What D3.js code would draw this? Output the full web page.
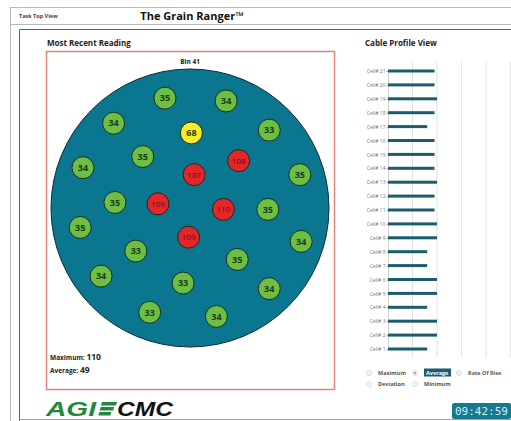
<!DOCTYPE html>
<html>
<head>
<meta charset="utf-8">
<script src="https://cdn.jsdelivr.net/npm/d3@7"></script>
<style>
  body { margin: 0; background: #fff; }
  text { font-family: "Open Sans", "DejaVu Sans", sans-serif; }
</style>
</head>
<body>
<div id="view"></div>
<script>

// sensor readings in the bin, positions in bin units (-1..1 from the center)
var sensorX = [-0.18, 0.26, -0.55, 0.01, 0.57, -0.34, 0.35, -0.77, 0.03, 0.79, -0.54, -0.23,
               0.24, 0.56, -0.79, -0.01, 0.80, -0.39, 0.34, -0.64, -0.05, 0.57, -0.29, 0.19];
var sensorY = [-0.79, -0.77, -0.61, -0.54, -0.56, -0.37, -0.34, -0.29, -0.24, -0.24, -0.04, -0.03,
               0.01, 0.01, 0.14, 0.21, 0.24, 0.31, 0.37, 0.49, 0.54, 0.58, 0.75, 0.78];
var sensorTemp = [35, 34, 34, 68, 33, 35, 108, 34, 107, 35, 35, 109,
                  110, 35, 35, 109, 34, 33, 35, 34, 33, 34, 33, 34];

// cable profile (average per cell)
var cells = ["Cell# 21", "Cell# 20", "Cell# 19", "Cell# 18", "Cell# 17", "Cell# 16", "Cell# 15",
             "Cell# 14", "Cell# 13", "Cell# 12", "Cell# 11", "Cell# 10", "Cell# 9", "Cell# 8",
             "Cell# 7", "Cell# 6", "Cell# 5", "Cell# 4", "Cell# 3", "Cell# 2", "Cell# 1"];
var cellAvg = [38, 38, 40, 38, 32, 38, 38, 38, 40, 38, 38, 40, 40, 32, 32, 40, 40, 32, 40, 40, 32];
var profileTicks = [0, 20, 40, 60, 80, 100];

var options1 = ["Maximum", "Average", "Rate Of Rise"];
var options2 = ["Deviation", "Minimum"];
var selectedOption = "Average";

var binName = "Bin 41";
var maxReading = 110;
var avgReading = 49;
var clockText = "09:42:59";

var width = 511, height = 421;

var svg = d3.select("#view")
  .append("svg")
    .attr("width", width)
    .attr("height", height);

// window frame + header
svg.append("line").attr("x1", 10).attr("x2", width).attr("y1", 7.5).attr("y2", 7.5)
  .attr("stroke", "#b9b9b9");
svg.append("line").attr("x1", 10).attr("x2", width).attr("y1", 24.5).attr("y2", 24.5)
  .attr("stroke", "#b9b9b9");
svg.append("line").attr("x1", 10.5).attr("x2", 10.5).attr("y1", 7).attr("y2", height)
  .attr("stroke", "#b9b9b9");
svg.append("text")
  .attr("x", 19).attr("y", 18)
  .style("font-size", "5.5px")
  .style("font-weight", "bold")
  .attr("fill", "#444")
  .text("Task Top View");
svg.append("text")
  .attr("x", 192).attr("y", 20)
  .attr("text-anchor", "middle")
  .style("font-size", "11px")
  .style("font-weight", "bold")
  .attr("fill", "#111")
  .text("The Grain Ranger™");

// inner panel
svg.append("path")
  .attr("d", "M19.5," + height + "V29.5H" + width)
  .attr("fill", "none")
  .attr("stroke", "#4d6870");
svg.append("line").attr("x1", 19).attr("x2", width).attr("y1", 419.5).attr("y2", 419.5)
  .attr("stroke", "#9aa9ad");

// ---------- Most Recent Reading ----------
svg.append("text")
  .attr("x", 47).attr("y", 46)
  .style("font-size", "8px")
  .style("font-weight", "bold")
  .attr("fill", "#222")
  .text("Most Recent Reading");

svg.append("rect")
  .attr("x", 46.5).attr("y", 51.5)
  .attr("width", 288).attr("height", 338)
  .attr("fill", "#fff")
  .attr("stroke", "#e0857a")
  .attr("stroke-width", 1.5);

svg.append("text")
  .attr("x", 190).attr("y", 64)
  .attr("text-anchor", "middle")
  .style("font-size", "6.5px")
  .style("font-weight", "bold")
  .attr("fill", "#222")
  .text(binName);

var cx = 190, cy = 208, r = 139;
var bx = d3.scaleLinear().domain([-1, 1]).range([cx - r, cx + r]);
var by = d3.scaleLinear().domain([-1, 1]).range([cy - r, cy + r]);

svg.append("circle")
  .attr("cx", bx(0)).attr("cy", by(0))
  .attr("r", bx(1) - bx(0))
  .attr("fill", "#0b7690")
  .attr("stroke", "#0d2a33")
  .attr("stroke-width", 1);

var tempColor = d3.scaleThreshold()
  .domain([60, 100])
  .range(["#6cbf44", "#f6ec2e", "#e3262a"]);
var tempText = d3.scaleThreshold()
  .domain([60, 100])
  .range(["#1d3a12", "#3a3300", "#6a0c0c"]);

var sensors = sensorTemp.map(function(t, i) {
  return {x: sensorX[i], y: sensorY[i], t: t};
});

var dots = svg.selectAll("g.sensor")
  .data(sensors)
  .enter()
  .append("g")
    .attr("class", "sensor")
    .attr("transform", function(d) { return "translate(" + bx(d.x) + "," + by(d.y) + ")"; });
dots.append("circle")
  .attr("r", 11)
  .attr("fill", function(d) { return tempColor(d.t); })
  .attr("stroke", "#1b2a1b")
  .attr("stroke-width", 1);
dots.append("text")
  .attr("text-anchor", "middle")
  .attr("dy", "0.36em")
  .style("font-size", function(d) { return d.t >= 100 ? "8px" : "9px"; })
  .style("font-weight", function(d) { return d.t >= 100 ? "normal" : "bold"; })
  .attr("fill", function(d) { return tempText(d.t); })
  .text(function(d) { return d.t; });

// summary
var sumMax = svg.append("text").attr("x", 50).attr("y", 360).attr("fill", "#222");
sumMax.append("tspan").style("font-size", "6.5px").style("font-weight", "bold").text("Maximum: ");
sumMax.append("tspan").style("font-size", "8.5px").style("font-weight", "bold").text(maxReading);
var sumAvg = svg.append("text").attr("x", 50).attr("y", 373).attr("fill", "#222");
sumAvg.append("tspan").style("font-size", "6.5px").style("font-weight", "bold").text("Average: ");
sumAvg.append("tspan").style("font-size", "8.5px").style("font-weight", "bold").text(avgReading);

// logo
var logo = svg.append("g").attr("transform", "translate(46,416)");
logo.append("text")
  .attr("x", 0)
  .attr("textLength", 50)
  .attr("lengthAdjust", "spacingAndGlyphs")
  .style("font-size", "21px")
  .style("font-weight", "bold")
  .style("font-style", "italic")
  .style("font-family", "'Liberation Sans', Arial, sans-serif")
  .attr("fill", "#1f8a3b")
  .text("AGI");
[0, 1, 2].forEach(function(i) {
  logo.append("path")
    .attr("d", "M" + (56 - i * 1.3) + "," + (-14 + i * 5) + "h" + (15 - i * 1.5) + "l-1.1,3.4h-" + (15 - i * 1.5) + "z")
    .attr("fill", "#1f8a3b");
});
logo.append("text")
  .attr("x", 71)
  .attr("textLength", 56)
  .attr("lengthAdjust", "spacingAndGlyphs")
  .style("font-size", "21px")
  .style("font-weight", "bold")
  .style("font-style", "italic")
  .style("font-family", "'Liberation Sans', Arial, sans-serif")
  .attr("fill", "#111")
  .text("CMC");

// ---------- Cable Profile View ----------
svg.append("text")
  .attr("x", 365).attr("y", 46)
  .style("font-size", "8px")
  .style("font-weight", "bold")
  .attr("fill", "#222")
  .text("Cable Profile View");

var px = d3.scaleLinear().domain([0, 100]).range([388, 510.5]);
var py = d3.scalePoint().domain(cells).range([71, 349]);

// grid
svg.selectAll("line.grid")
  .data(profileTicks.slice(1))
  .enter()
  .append("line")
    .attr("class", "grid")
    .attr("x1", function(d) { return px(d); })
    .attr("x2", function(d) { return px(d); })
    .attr("y1", 62).attr("y2", 357)
    .attr("stroke", "#e2e2e2");

var yAxis = svg.append("g")
  .attr("transform", "translate(" + px(0) + ",0)")
  .call(d3.axisLeft(py).tickSize(1.5).tickPadding(1));
yAxis.select(".domain").attr("stroke", "#d0d0d0");
yAxis.selectAll(".tick line").attr("stroke", "#aaa");
yAxis.selectAll(".tick text")
  .style("font-size", "5px")
  .style("font-family", "'Open Sans', sans-serif")
  .attr("fill", "#777");

svg.selectAll("rect.bar")
  .data(cellAvg)
  .enter()
  .append("rect")
    .attr("class", "bar")
    .attr("x", px(0))
    .attr("y", function(d, i) { return py(cells[i]) - 1.5; })
    .attr("width", function(d) { return px(d) - px(0); })
    .attr("height", 3)
    .attr("fill", "#1a5e6d");

// radio options
function drawOptions(list, y, xs) {
  list.forEach(function(name, i) {
    var g = svg.append("g").attr("transform", "translate(" + xs[i] + "," + y + ")");
    g.append("circle").attr("r", 2.6).attr("fill", "#f4f4f4").attr("stroke", "#cfcfcf").attr("stroke-width", 0.6);
    if (name === selectedOption) {
      g.append("circle").attr("r", 1).attr("fill", "#888");
      g.append("rect").attr("x", 9).attr("y", -4.5).attr("width", 27).attr("height", 8).attr("fill", "#1d5d6e");
    }
    g.append("text")
      .attr("x", name === selectedOption ? 11 : 9)
      .attr("dy", "0.35em")
      .style("font-size", "5.5px")
      .style("font-weight", "bold")
      .attr("fill", name === selectedOption ? "#fff" : "#555")
      .text(name);
  });
}
drawOptions(options1, 373, [369, 415, 459]);
drawOptions(options2, 384, [369, 415]);

// clock
svg.append("rect")
  .attr("x", 452).attr("y", 403)
  .attr("width", 59).attr("height", 16)
  .attr("rx", 2)
  .attr("fill", "#17798d");
svg.append("text")
  .attr("x", 455).attr("y", 414.5)
  .style("font-size", "11px")
  .style("font-family", "'DejaVu Sans Mono', monospace")
  .attr("fill", "#c9f1fa")
  .text(clockText);
</script>
</body>
</html>
